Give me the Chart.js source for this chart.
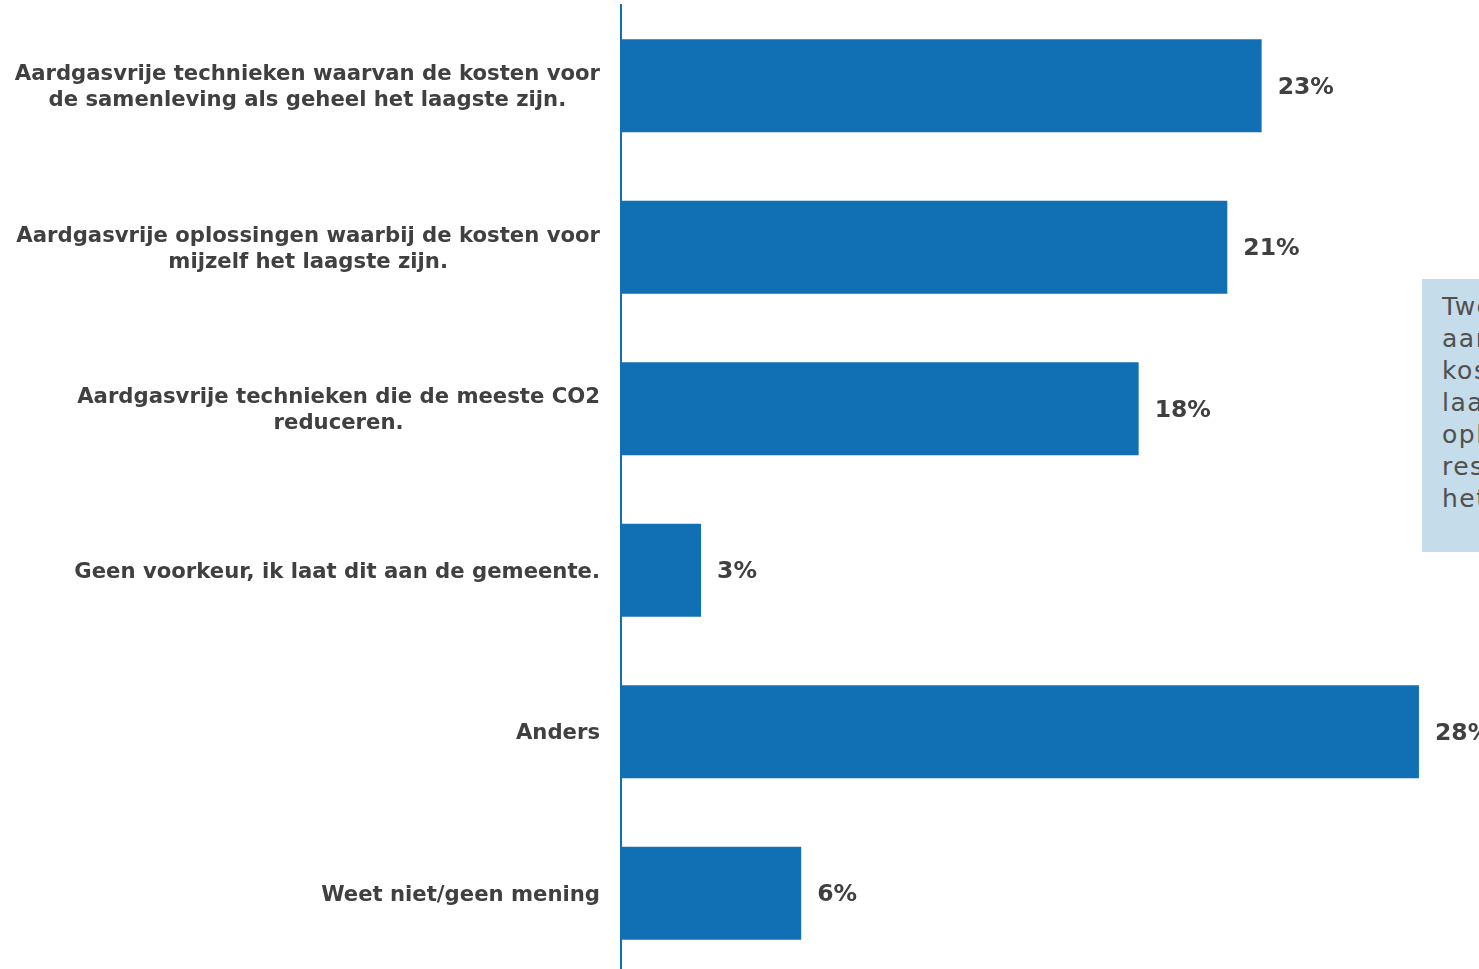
<!DOCTYPE html>
<html>
<head>
<meta charset="utf-8">
<script src="https://cdn.jsdelivr.net/npm/chart.js@4"></script>
<style>
  html, body { margin: 0; padding: 0; background: #fff; overflow: hidden; }
  #wrap { position: relative; width: 1479px; height: 974px; }
  #note {
    position: absolute; left: 1422px; top: 279px; width: 320px; height: 273px;
    background: #c5dcea; color: #505050; box-sizing: border-box;
    padding: 12px 0 0 20px; font: 25px "DejaVu Sans", Verdana, sans-serif;
    letter-spacing: 1.5px; line-height: 32px; white-space: nowrap;
  }
</style>
</head>
<body>
<div id="wrap">
  <canvas id="bar-chart"></canvas>
  <div id="note">Twee op de tien inwoners geeft<br>aan te kiezen voor de laagste<br>kosten voor de samenleving of het<br>laagste voor zichzelf, of voor de<br>oplossing met de meeste CO2-reductie;<br>respectievelijk 28% kiest iets anders,<br>het overige deel weet het niet.</div>
</div>
<script>
const categories = [
    ['Aardgasvrije technieken waarvan de kosten voor', 'de samenleving als geheel het laagste zijn.'],
    ['Aardgasvrije oplossingen waarbij de kosten voor', 'mijzelf het laagste zijn.'],
    ['Aardgasvrije technieken die de meeste CO2', 'reduceren.'],
    ['Geen voorkeur, ik laat dit aan de gemeente.'],
    ['Anders'],
    ['Weet niet/geen mening']
];
const values = [22.4, 21.2, 18.1, 2.8, 27.9, 6.3];
const valueLabels = ['23%', '21%', '18%', '3%', '28%', '6%'];

const textColor = '#404040';
const barColor = 'rgb(17, 112, 179)';
const font = '"DejaVu Sans", Verdana, sans-serif';

// category labels, centred per block and right aligned next to the axis
const labelPlugin = {
    id: 'labels',
    afterDraw(chart) {
        const c = chart.ctx;
        const y = chart.scales.y;
        c.save();
        c.font = 'bold 21.2px ' + font;
        c.fillStyle = textColor;
        c.textAlign = 'center';
        c.textBaseline = 'middle';
        categories.forEach((lines, i) => {
            const maxW = Math.max(...lines.map(l => c.measureText(l).width));
            const cx = 600 - maxW / 2;
            const cy = y.getPixelForValue(i) + 2;
            const lh = 26;
            lines.forEach((l, j) => {
                c.fillText(l, cx, cy + (j - (lines.length - 1) / 2) * lh);
            });
        });

        // value labels
        const meta = chart.getDatasetMeta(0);
        c.font = 'bold 23.5px ' + font;
        c.textAlign = 'left';
        meta.data.forEach((bar, i) => {
            c.fillText(valueLabels[i], bar.x + 16, bar.y + 2);
        });
        c.restore();
    }
};

let ctx = document.getElementById('bar-chart');

var chart = new Chart(ctx, {
    type: 'bar',
    data: {
        labels: categories,
        datasets: [{
            data: values,
            backgroundColor: barColor,
            borderWidth: 0,
            categoryPercentage: 1,
            barPercentage: 0.576
        }]
    },
    options: {
        indexAxis: 'y',
        responsive: true,
        maintainAspectRatio: false,
        animation: false,
        layout: {
            padding: { left: 621, top: 5, right: 0, bottom: 0 }
        },
        scales: {
            x: {
                display: false,
                min: 0,
                max: 30
            },
            y: {
                ticks: { display: false },
                grid: { display: false },
                border: { display: true, color: barColor, width: 2 },
                afterFit(scale) { scale.width = 0; }
            }
        },
        plugins: {
            legend: { display: false },
            tooltip: { enabled: false }
        }
    },
    plugins: [labelPlugin]
});
</script>
</body>
</html>
